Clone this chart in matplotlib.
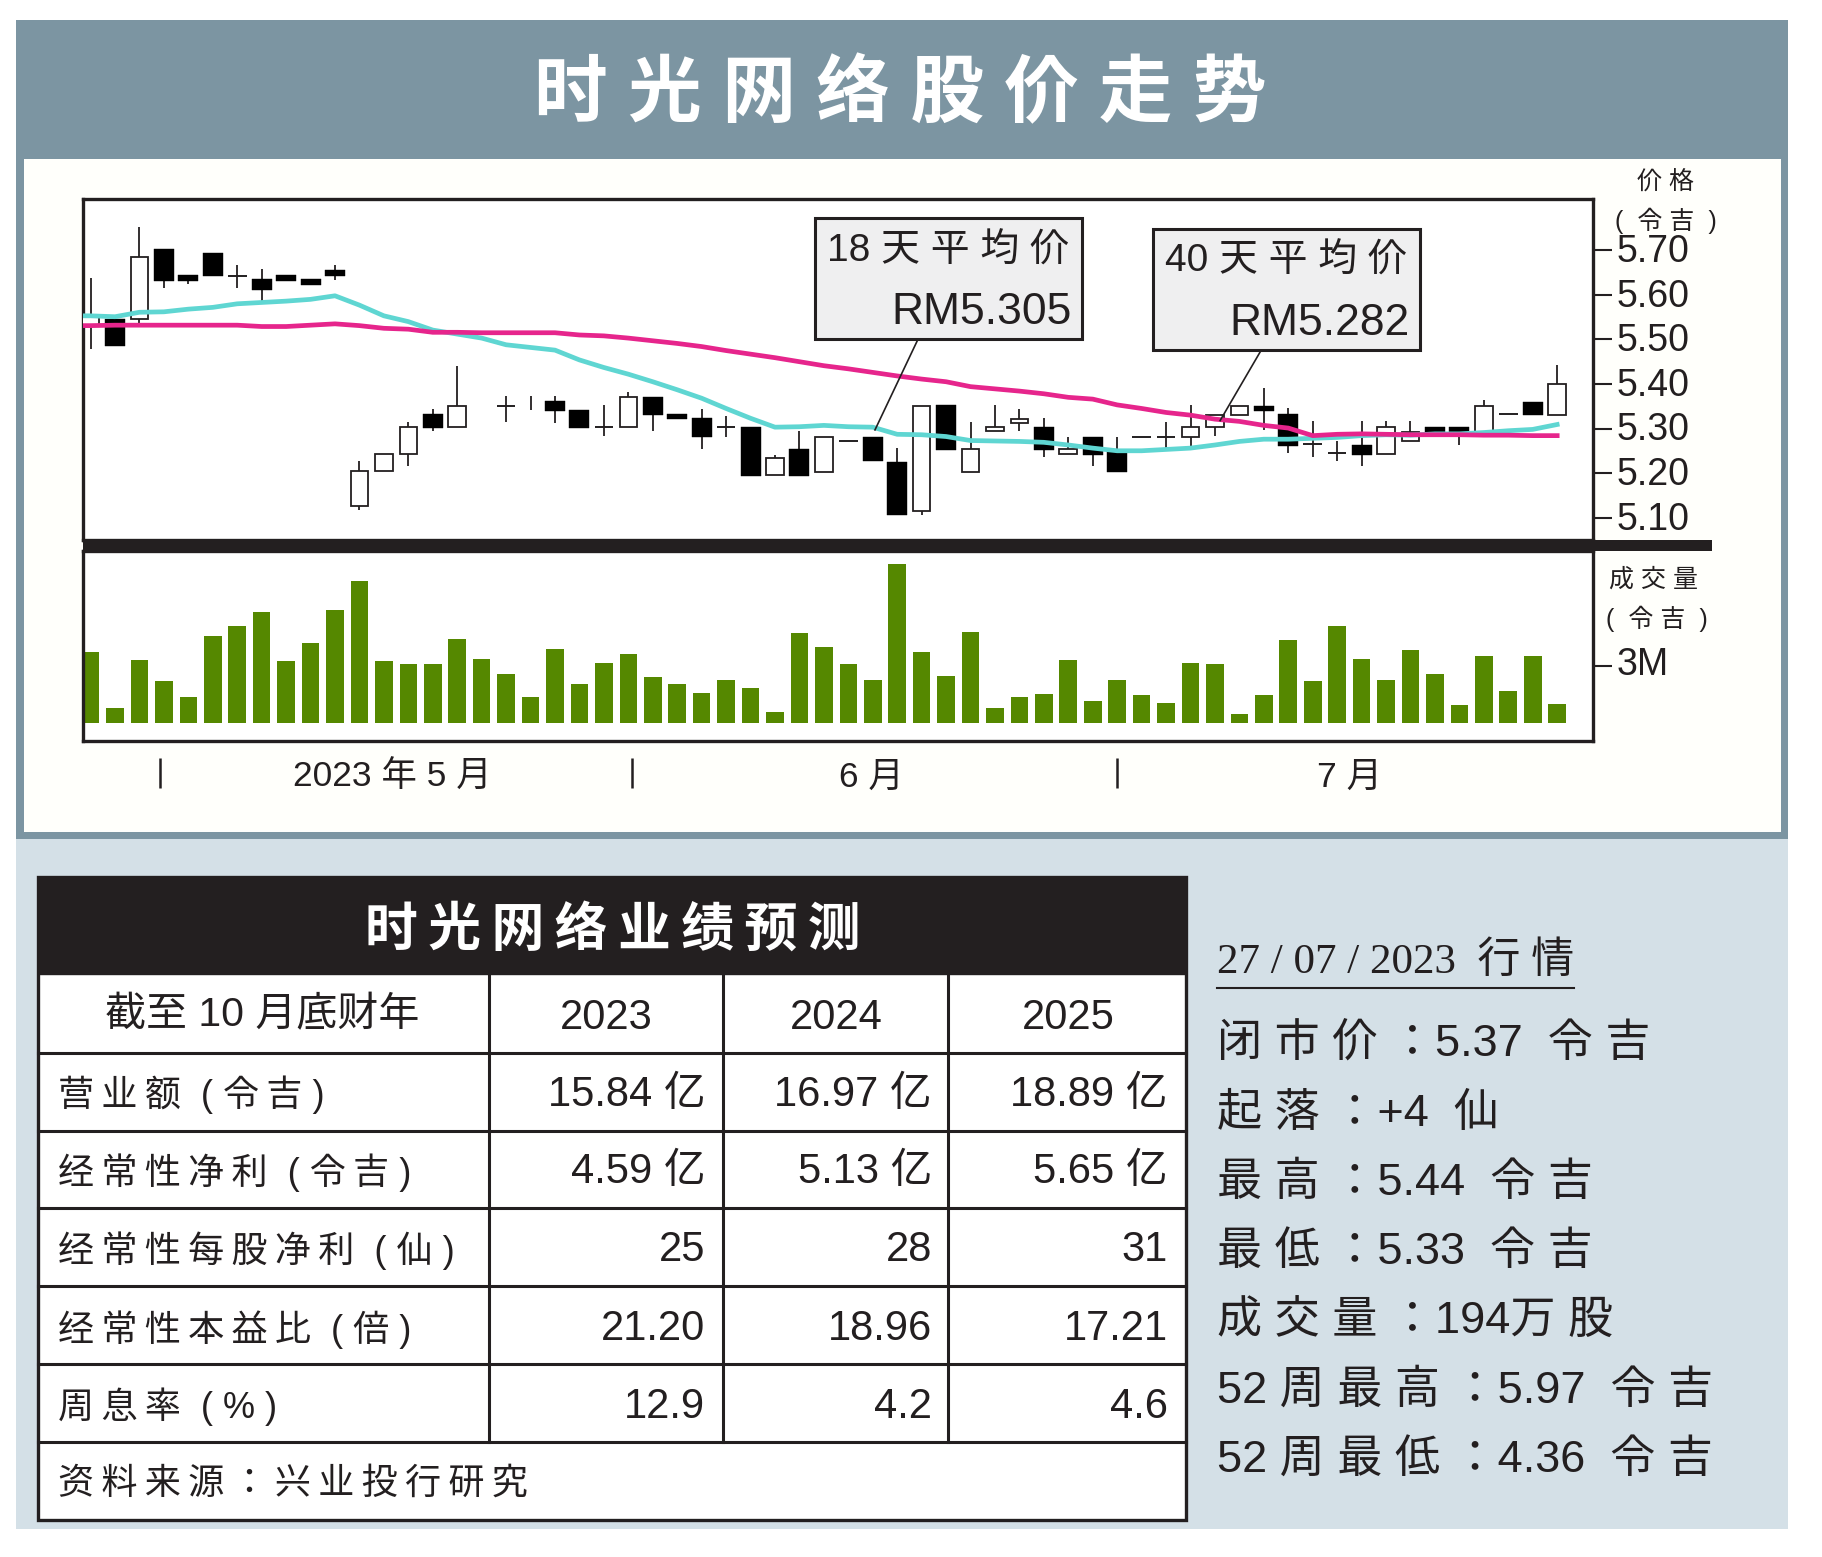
import numpy as np
import matplotlib
matplotlib.use("Agg")
import matplotlib.pyplot as plt
from matplotlib.patches import Rectangle
from matplotlib.transforms import ScaledTranslation

# matplotlib only registers the CJK collection under its JP name
CJK = "Noto Sans CJK JP"
plt.rcParams["font.family"] = ["Liberation Sans", CJK]

# ===== data =====
nan = float("nan")
opens = [5.53, 5.545, 5.545, 5.704, 5.644, 5.695, 5.643, 5.635, 5.644, 5.635, 5.657,
         5.125, 5.204, 5.242, 5.333, 5.303, nan, 5.351, nan, 5.361, 5.342, 5.303, 5.303,
         5.370, 5.333, 5.323, 5.303, 5.304, 5.195, 5.253, 5.203, 5.273, 5.282, 5.224,
         5.115, 5.352, 5.203, 5.294, 5.313, 5.304, 5.243, 5.281, 5.247, 5.281, 5.281,
         5.280, 5.304, 5.330, 5.351, 5.333, 5.265, 5.244, 5.263, 5.242, 5.271, 5.303,
         5.303, 5.293, 5.332, 5.360, 5.331]
highs = [5.637, 5.545, 5.753, 5.704, 5.644, 5.695, 5.667, 5.658, 5.644, 5.635, 5.668,
         5.226, 5.243, 5.314, 5.343, 5.441, nan, 5.372, 5.372, 5.372, 5.342, 5.353, 5.381,
         5.370, 5.333, 5.343, 5.327, 5.304, 5.240, 5.295, 5.282, 5.273, 5.282, 5.256,
         5.351, 5.352, 5.314, 5.353, 5.343, 5.323, 5.282, 5.281, 5.282, 5.281, 5.315,
         5.353, 5.330, 5.351, 5.390, 5.345, 5.316, 5.272, 5.316, 5.316, 5.316, 5.303,
         5.303, 5.363, 5.332, 5.360, 5.443]
lows = [5.478, 5.486, 5.536, 5.616, 5.625, 5.642, 5.615, 5.586, 5.632, 5.622, 5.633,
        5.117, 5.204, 5.215, 5.295, 5.303, nan, 5.314, 5.342, 5.313, 5.301, 5.283, 5.303,
        5.295, 5.321, 5.253, 5.282, 5.194, 5.195, 5.194, 5.203, 5.273, 5.226, 5.105,
        5.106, 5.251, 5.203, 5.294, 5.295, 5.235, 5.243, 5.215, 5.203, 5.281, 5.256,
        5.261, 5.283, 5.330, 5.297, 5.244, 5.235, 5.226, 5.216, 5.242, 5.271, 5.293,
        5.263, 5.293, 5.332, 5.331, 5.331]
closes = [5.55, 5.486, 5.684, 5.632, 5.632, 5.642, 5.643, 5.612, 5.632, 5.622, 5.642,
          5.205, 5.243, 5.304, 5.302, 5.351, nan, 5.351, nan, 5.340, 5.301, 5.303, 5.37,
          5.330, 5.321, 5.280, 5.303, 5.194, 5.233, 5.194, 5.282, 5.273, 5.226, 5.105,
          5.351, 5.251, 5.253, 5.304, 5.322, 5.252, 5.253, 5.241, 5.203, 5.281, 5.281,
          5.303, 5.330, 5.351, 5.340, 5.261, 5.265, 5.244, 5.241, 5.303, 5.293, 5.293,
          5.293, 5.351, 5.332, 5.331, 5.400]
ma18 = [5.553, 5.553, 5.551, 5.561, 5.562, 5.568, 5.572, 5.580, 5.583, 5.586, 5.590, 5.598,
        5.577, 5.553, 5.540, 5.521, 5.512, 5.503, 5.488, 5.482, 5.476, 5.454, 5.437, 5.422,
        5.405, 5.387, 5.368, 5.345, 5.323, 5.303, 5.304, 5.307, 5.304, 5.303, 5.287, 5.286,
        5.282, 5.273, 5.272, 5.271, 5.269, 5.263, 5.256, 5.250, 5.250, 5.253,
        5.256, 5.263, 5.271, 5.276, 5.276, 5.278, 5.280, 5.284, 5.286, 5.285, 5.288,
        5.288, 5.291, 5.295, 5.298, 5.309]
ma40 = [5.531, 5.531, 5.532, 5.532, 5.532, 5.532, 5.532, 5.532, 5.529, 5.529, 5.532, 5.535,
        5.531, 5.525, 5.523, 5.516, 5.516, 5.515, 5.515, 5.515, 5.515, 5.510, 5.508, 5.503,
        5.497, 5.491, 5.484, 5.475, 5.467, 5.459, 5.450, 5.441, 5.434, 5.426, 5.418, 5.411,
        5.405, 5.394, 5.389, 5.384, 5.378, 5.370, 5.366, 5.353, 5.345, 5.336,
        5.330, 5.321, 5.316, 5.307, 5.301, 5.284, 5.287, 5.288, 5.287, 5.286, 5.286,
        5.286, 5.285, 5.285, 5.284, 5.284]
volumes = [3.73, 0.78, 3.29, 2.18, 1.37, 4.54, 5.06, 5.79, 3.23, 4.18, 5.88, 7.40, 3.23,
           3.07, 3.07, 4.40, 3.36, 2.55, 1.37, 3.88, 2.05, 3.14, 3.59, 2.41, 2.05, 1.60,
           2.25, 1.82, 0.57, 4.70, 3.95, 3.07, 2.25, 8.29, 3.73, 2.48, 4.77, 0.78, 1.37,
           1.53, 3.29, 1.16, 2.25, 1.46, 1.08, 3.14, 3.07, 0.49, 1.46, 4.32, 2.18, 5.06,
           3.36, 2.25, 3.81, 2.55, 0.94, 3.52, 1.66, 3.52, 1.01]
price_ticks = [5.10, 5.20, 5.30, 5.40, 5.50, 5.60, 5.70]
month_starts = [2.85, 22.15, 42]

# the paper sets its Chinese with a little tracking, a thin space gets close
title = "时 光 网 络 股 价 走 势"
table_title = "时\u2009光\u2009网\u2009络\u2009业\u2009绩\u2009预\u2009测"
table_years = ["2023", "2024", "2025"]
table_rows = ["营\u2009业\u2009额  ( 令\u2009吉 )",
              "经\u2009常\u2009性\u2009净\u2009利  ( 令\u2009吉 )",
              "经\u2009常\u2009性\u2009每\u2009股\u2009净\u2009利  ( 仙 )",
              "经\u2009常\u2009性\u2009本\u2009益\u2009比  ( 倍 )",
              "周\u2009息\u2009率  ( % )"]
source = "资\u2009料\u2009来\u2009源\u2009：\u2009兴\u2009业\u2009投\u2009行\u2009研\u2009究"
col_2023 = ["15.84 亿", "4.59 亿", "25", "21.20", "12.9"]
col_2024 = ["16.97 亿", "5.13 亿", "28", "18.96", "4.2"]
col_2025 = ["18.89 亿", "5.65 亿", "31", "17.21", "4.6"]
quotes = ["闭 市 价 ：5.37  令 吉", "起 落 ：+4  仙", "最 高 ：5.44  令 吉", "最 低 ：5.33  令 吉",
          "成 交 量 ：194万 股", "52 周 最 高 ：5.97  令 吉", "52 周 最 低 ：4.36  令 吉"]

# ===== layout, in coordinates of a 1568 x 1340 sheet =====
W, H = 1568, 1340
BLACK = "#231f20"
BAND = "#7c95a2"
PALE = "#d4e0e7"
PAPER = "#fffffb"
GREEN = "#558800"
CYAN = "#5fd6d2"
MAGENTA = "#e6258c"
XMIN, XMAX = -0.33, 61.47


def sheet_axes(zorder):
    ax = fig.add_axes([0, 0, 1, 1], zorder=zorder)
    ax.set_xlim(0, W)
    ax.set_ylim(H, 0)
    ax.axis("off")
    return ax


def box(ax, x0, y0, x1, y1, **kw):
    ax.add_patch(Rectangle((x0, y0), x1 - x0, y1 - y0, **kw))


fig = plt.figure(figsize=(18.22, 15.57), dpi=100, facecolor="white")
bg = sheet_axes(0)

# sheet, title band, chart panel
box(bg, 14, 17, 1539, 1316, fc=PALE, ec="none")
box(bg, 14, 17, 1539, 722, fc=BAND, ec="none")
box(bg, 21, 137, 1533, 716, fc=PAPER, ec="none")
bg.text(775, 82, title, color="white", fontsize=53, fontweight="bold", ha="center", va="center")

# price panel
ax_price = fig.add_axes([71 / W, 1 - 465 / H, 1300 / W, 294 / H], zorder=2)
ax_price.set_facecolor("white")
ax_price.set_xlim(XMIN, XMAX)
ax_price.set_ylim(5.049, 5.816)

days = np.arange(len(closes))
for i in days:
    if np.isnan(highs[i]):
        continue
    ax_price.vlines(i, lows[i], highs[i], color=BLACK, lw=1.3, zorder=2)
    if np.isnan(opens[i]):
        continue
    if opens[i] == closes[i]:
        ax_price.hlines(opens[i], i - 0.38, i + 0.38, color=BLACK, lw=1.4, zorder=3)
    elif closes[i] > opens[i]:
        ax_price.bar(i, closes[i] - opens[i], bottom=opens[i], width=0.72, fc="white", ec=BLACK, lw=1.3, zorder=3)
    else:
        ax_price.bar(i, opens[i] - closes[i], bottom=closes[i], width=0.82, fc="black", ec="black", lw=0.3, zorder=3)

ma_days = np.r_[XMIN, days]
ax_price.plot(ma_days, ma18, color=CYAN, lw=3.4, zorder=4)
ax_price.plot(ma_days, ma40, color=MAGENTA, lw=3.4, zorder=5)

ax_price.set_xticks([])
ax_price.set_yticks(price_ticks)
ax_price.set_yticklabels([f"{t:.2f}" for t in price_ticks], fontsize=27, color=BLACK)
ax_price.yaxis.tick_right()
ax_price.tick_params(axis="y", length=14, width=1.5, color=BLACK, pad=3)

# volume panel
ax_vol = fig.add_axes([71 / W, 1 - 638 / H, 1300 / W, 164 / H], zorder=2)
ax_vol.set_facecolor("white")
ax_vol.set_xlim(XMIN, XMAX)
ax_vol.set_ylim(-0.94, 8.98)
ax_vol.bar(days, volumes, width=0.72, color=GREEN)
ax_vol.set_xticks([])
ax_vol.set_yticks([3])
ax_vol.set_yticklabels(["3M"], fontsize=27, color=BLACK)
ax_vol.yaxis.tick_right()
ax_vol.tick_params(axis="y", length=14, width=1.5, color=BLACK, pad=3)
ax_vol.vlines(month_starts, -0.245, -0.085, transform=ax_vol.get_xaxis_transform(), color=BLACK, lw=1.8, clip_on=False)

# tick labels sit a touch above their ticks in the paper
for ax, lift in ((ax_price, 1.5), (ax_vol, 3)):
    for label in ax.get_yticklabels():
        label.set_transform(label.get_transform() + ScaledTranslation(0, lift / 72, fig.dpi_scale_trans))
    for spine in ax.spines.values():
        spine.set_linewidth(2.4)
        spine.set_color(BLACK)

# overlay: thick divider, callouts, side labels
fg = sheet_axes(3)
box(fg, 71, 465, 1473, 474, fc=BLACK, ec="none")
for x, y, txt in [(1433, 156, "价 格"), (1434, 190, "(  令 吉  )"), (1423, 499, "成 交 量"), (1426, 533, "(  令 吉  )")]:
    fg.text(x, y, txt, fontsize=18, color=BLACK, ha="center", va="center")
for x, txt in [(338, "2023 年 5 月"), (750, "6 月"), (1161, "7 月")]:
    fg.text(x, 669, txt, fontsize=25.5, color=BLACK, ha="center", va="center")

for x0, y0, name, value, leader in [(701, 188, "18 天 平 均 价", "RM5.305", (790, 292, 753, 370)),
                                    (992, 197, "40 天 平 均 价", "RM5.282", (1085, 302, 1050, 362))]:
    fg.plot(leader[0::2], leader[1::2], color=BLACK, lw=1.2)
    box(fg, x0, y0, x0 + 230, y0 + 104, fc="#efeff0", ec=BLACK, lw=2.2)
    fg.text(x0 + 115, y0 + 28, name, fontsize=28, color=BLACK, ha="center", va="center")
    fg.text(x0 + 221, y0 + 81, value, fontsize=32, color=BLACK, ha="right", va="center")

# forecast table
box(fg, 33, 755, 1021, 1308, fc="white", ec=BLACK, lw=2.4)
box(fg, 33, 755, 1021, 838, fc=BLACK, ec=BLACK, lw=1)
fg.text(527, 801, table_title, color="white", fontsize=38, fontweight="bold", ha="center", va="center")
row_lines = [906, 973, 1040, 1107, 1174, 1241]
for y in row_lines:
    fg.plot([33, 1021], [y, y], color=BLACK, lw=2.2)
for x in [421, 622, 816]:
    fg.plot([x, x], [838, 1241], color=BLACK, lw=2.2)

fg.text(226, 874, "截至 10 月底财年", fontsize=29.5, color=BLACK, ha="center", va="center")
for x, txt in zip([522, 720, 919], table_years):
    fg.text(x, 876, txt, fontsize=30, color=BLACK, ha="center", va="center")
row_y = [942, 1009, 1076, 1144, 1211]
for y, label, a, b, c in zip(row_y, table_rows, col_2023, col_2024, col_2025):
    fg.text(50, y, label, fontsize=26, color=BLACK, ha="left", va="center")
    fg.text(607, y, a, fontsize=30, color=BLACK, ha="right", va="center")
    fg.text(802, y, b, fontsize=30, color=BLACK, ha="right", va="center")
    fg.text(1005, y, c, fontsize=30, color=BLACK, ha="right", va="center")
fg.text(50, 1277, source, fontsize=26, color=BLACK, ha="left", va="center")

# quote block
fg.text(1047, 828, "27 / 07 / 2023  行 情", fontsize=31, family=["Liberation Serif", CJK], color=BLACK, ha="left", va="center")
fg.plot([1047, 1355], [850, 850], color=BLACK, lw=1.5)
for y, txt in zip([899, 959, 1018, 1078, 1138, 1197, 1257], quotes):
    fg.text(1047, y, txt, fontsize=32.5, color=BLACK, ha="left", va="center")

fig.savefig("out.png", dpi=100, facecolor="white")
